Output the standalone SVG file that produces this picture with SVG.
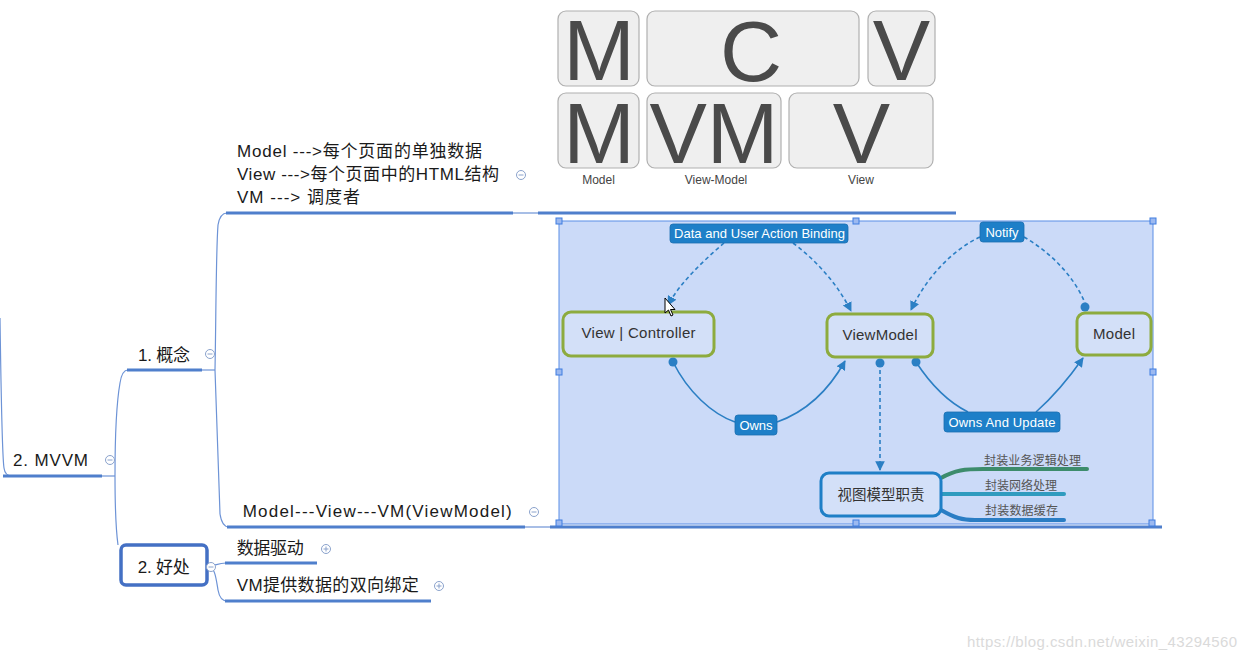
<svg xmlns="http://www.w3.org/2000/svg" width="1247" height="662" viewBox="0 0 1247 662">
<defs>
<style>
.t{font-family:"Liberation Sans","Noto Sans CJK SC",sans-serif;fill:#1a1a1a;font-size:17px}
.ul{stroke:#4f7fcc;stroke-width:3;fill:none}
.thin{stroke:#6d93d6;stroke-width:1.2;fill:none}
.ic{fill:#fff;stroke:#8aa2cc;stroke-width:1}
.box{fill:#efefef;stroke:#b0b0b0;stroke-width:1.2}
.big{font-family:"Liberation Sans",sans-serif;font-size:86px;fill:#4a4a4a;text-anchor:middle}
.cap{font-family:"Liberation Sans",sans-serif;font-size:12px;fill:#444;text-anchor:middle}
.badge{fill:#1e7fc8;stroke:#1a6fb0;stroke-width:.8}
.bt{font-family:"Liberation Sans",sans-serif;font-size:13px;fill:#fff;text-anchor:middle}
.node{fill:#d3e0f8;stroke:#8dab3e;stroke-width:3}
.nt{font-family:"Liberation Sans",sans-serif;font-size:15px;fill:#333;text-anchor:middle}
.cn{fill:none;stroke:#2b7fc4;stroke-width:1.6}
.dash{stroke-dasharray:4 3}
.dot{fill:#2b7fc4}
.h{fill:#9cb9f0;stroke:#3f7ce0;stroke-width:1}
.st{font-family:"Noto Sans CJK SC",sans-serif;font-size:12px;fill:#555}
.br{fill:none;stroke-width:4;stroke-linecap:round}
</style>
<marker id="ah" viewBox="0 0 10 10" refX="9" refY="5" markerWidth="6" markerHeight="6" orient="auto"><path d="M0,0L10,5L0,10z" fill="#2b7fc4"/></marker>
<g id="minus"><circle r="4.5" class="ic"/><path d="M-2.5,0H2.5" stroke="#8aa2cc" stroke-width="1"/></g>
<g id="plus"><circle r="4.5" class="ic"/><path d="M-2.5,0H2.5M0,-2.5V2.5" stroke="#8aa2cc" stroke-width="1"/></g>
</defs>
<rect width="1247" height="662" fill="#fff"/>

<g id="connectors">
<path class="thin" d="M0,318 C1,390 2,455 4,468 Q5,476 12,476"/>
<path class="thin" d="M102,476H115"/>
<path class="thin" d="M115,476 C115,440 117,400 120,383 Q122,370 128,370"/>
<path class="thin" d="M115,476 C115,505 116,530 118,545"/>
<path class="thin" d="M202,370H215"/>
<path class="thin" d="M215,370 C216,320 216,250 218,225 Q220,213 227,213"/>
<path class="thin" d="M215,370 C217,430 219,490 220,514 Q222,527 229,527"/>
<path class="thin" d="M208,566 C216,566 217,563 226,563"/>
<path class="thin" d="M208,566 C215,567 216,578 218,590 Q220,601 227,601"/>
<path class="thin" d="M513,213H538"/>
<path class="thin" d="M525,527H550"/>
</g>

<g id="node-mvvm">
<text class="t" x="13" y="466" font-size="18" textLength="75">2. MVVM</text>
<path class="ul" d="M3,476H102"/>
<use href="#minus" x="110" y="460"/>
</g>

<g id="node-concept">
<text class="t" x="138" y="361" textLength="52">1. 概念</text>
<path class="ul" d="M127,370H202"/>
<use href="#minus" x="210" y="354"/>
</g>

<g id="node-definitions">
<text class="t" x="237" y="157" textLength="245">Model ---&gt;每个页面的单独数据</text>
<text class="t" x="237" y="180" textLength="262">View ---&gt;每个页面中的HTML结构</text>
<text class="t" x="237" y="203" textLength="123">VM ---&gt; 调度者</text>
<path class="ul" d="M226,213H513"/>
<use href="#minus" x="521" y="175"/>
</g>

<g id="node-mvc-image">
<path class="ul" d="M538,213H956"/>
<rect class="box" x="558" y="11" width="81" height="75" rx="8"/>
<rect class="box" x="647" y="11" width="212" height="75" rx="8"/>
<rect class="box" x="868" y="11" width="67" height="75" rx="8"/>
<rect class="box" x="558" y="93" width="81" height="75" rx="8"/>
<rect class="box" x="647" y="93" width="134" height="75" rx="8"/>
<rect class="box" x="789" y="93" width="144" height="75" rx="8"/>
<text class="big" x="599" y="80">M</text>
<text class="big" x="751" y="81">C</text>
<text class="big" x="901.5" y="80">V</text>
<text class="big" x="599" y="163">M</text>
<text class="big" x="714" y="163">VM</text>
<text class="big" x="861.5" y="163">V</text>
<text class="cap" x="598.5" y="184">Model</text>
<text class="cap" x="716" y="184">View-Model</text>
<text class="cap" x="861" y="184">View</text>
</g>

<g id="node-mvvm-text">
<text class="t" x="242.7" y="517" textLength="269">Model---View---VM(ViewModel)</text>
<path class="ul" d="M227,527H525"/>
<use href="#minus" x="534" y="512"/>
</g>

<g id="node-diagram">
<path class="ul" d="M550,527H1162"/>
<rect x="559" y="221" width="594" height="303" fill="#cbdaf8" stroke="#5b8ee6" stroke-width="1"/>
<g id="dg-connectors">
<path class="cn dash" d="M724,243 C702,262 680,283 668,305" marker-end="url(#ah)"/>
<path class="cn dash" d="M793,243 C818,262 838,285 851,311" marker-end="url(#ah)"/>
<path class="cn dash" d="M980,237 C952,250 926,278 911,310" marker-end="url(#ah)"/>
<path class="cn dash" d="M1024,237 C1050,252 1074,276 1085,303"/>
<circle class="dot" cx="1085" cy="307" r="4.5"/>
<path class="cn" d="M673,362 C688,392 712,414 735,422"/>
<circle class="dot" cx="673" cy="362" r="4.5"/>
<path class="cn" d="M777,422 C808,411 830,388 845,361" marker-end="url(#ah)"/>
<path class="cn" d="M916,362 C933,388 952,404 968,412"/>
<circle class="dot" cx="916" cy="362" r="4.5"/>
<path class="cn" d="M1036,412 C1054,396 1069,378 1083,358" marker-end="url(#ah)"/>
<path class="cn dash" d="M880,363V470" marker-end="url(#ah)"/>
<circle class="dot" cx="880" cy="363" r="4.5"/>
</g>
<g id="dg-badges">
<rect class="badge" x="670" y="224" width="178" height="19" rx="3"/>
<text class="bt" x="759.5" y="238" textLength="171">Data and User Action Binding</text>
<rect class="badge" x="980" y="222" width="44" height="20" rx="3"/>
<text class="bt" x="1002" y="236.5" textLength="33">Notify</text>
<rect class="badge" x="735" y="415" width="42" height="20" rx="3"/>
<text class="bt" x="756" y="430" textLength="33">Owns</text>
<rect class="badge" x="944" y="412" width="116" height="20" rx="3"/>
<text class="bt" x="1002" y="427" textLength="107">Owns And Update</text>
</g>
<g id="dg-view-controller">
<rect class="node" x="563" y="312" width="151" height="44" rx="8"/>
<text class="nt" x="638.5" y="338" textLength="114">View | Controller</text>
</g>
<g id="dg-viewmodel">
<rect class="node" x="827" y="314" width="106" height="43" rx="8"/>
<text class="nt" x="880" y="340" textLength="75">ViewModel</text>
</g>
<g id="dg-model">
<rect class="node" x="1077" y="313" width="74" height="42" rx="8"/>
<text class="nt" x="1114" y="339" textLength="42">Model</text>
</g>
<g id="dg-duty">
<path class="br" stroke="#3d8c6c" d="M941,478 C955,470 965,469 983,469 H1087"/>
<path class="br" stroke="#2f9bbf" d="M941,494 H1064"/>
<path class="br" stroke="#2a7dc4" d="M941,510 C955,518 962,520 975,520 H1064"/>
<rect x="821" y="473" width="120" height="43" rx="8" fill="#d3e0f8" stroke="#1f7fc6" stroke-width="3"/>
<text x="881" y="500" font-family="Noto Sans CJK SC, sans-serif" font-size="14.5" fill="#333" text-anchor="middle">视图模型职责</text>
<text class="st" x="984" y="465" textLength="97">封装业务逻辑处理</text>
<text class="st" x="985" y="490" textLength="72">封装网络处理</text>
<text class="st" x="985" y="515" textLength="73">封装数据缓存</text>
</g>
<g id="dg-handles">
<rect class="h" x="556" y="218" width="6" height="6"/>
<rect class="h" x="853" y="218" width="6" height="6"/>
<rect class="h" x="1150" y="218" width="6" height="6"/>
<rect class="h" x="556" y="369" width="6" height="6"/>
<rect class="h" x="1150" y="369" width="6" height="6"/>
<rect class="h" x="556" y="520" width="6" height="6"/>
<rect class="h" x="853" y="520" width="6" height="6"/>
<rect class="h" x="1149" y="520" width="6" height="6"/>
</g>
<path d="M665,298 L665,313 L668.5,310 L671,316 L673,315 L670.5,309.5 L675,309.5 Z" fill="#fff" stroke="#000" stroke-width="1"/>
</g>

<g id="node-benefit">
<rect x="121" y="545" width="86" height="40" rx="5" fill="#fff" stroke="#4470c4" stroke-width="3.5"/>
<text class="t" x="137.7" y="573" textLength="52">2. 好处</text>
<use href="#minus" x="211" y="567"/>
</g>

<g id="node-data-driven">
<text class="t" x="236.7" y="554" textLength="67">数据驱动</text>
<path class="ul" d="M225,563H317"/>
<use href="#plus" x="326" y="549"/>
</g>

<g id="node-vm-binding">
<text class="t" x="236.7" y="591" textLength="182">VM提供数据的双向绑定</text>
<path class="ul" d="M225,601H431"/>
<use href="#plus" x="439" y="586"/>
</g>

<text x="967" y="647" font-family="Liberation Sans, sans-serif" font-size="15" fill="#dadada" textLength="270">https://blog.csdn.net/weixin_43294560</text>
</svg>
